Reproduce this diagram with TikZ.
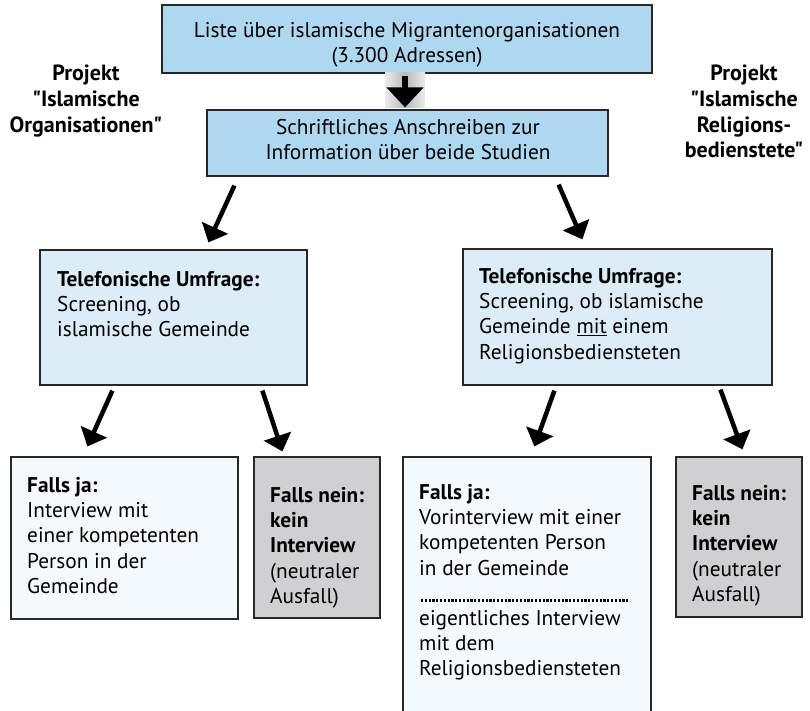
\documentclass[tikz,border=0pt]{standalone}
\usepackage{fontspec}
\setmainfont{PT Sans}[Ligatures=TeXOff]
\usetikzlibrary{arrows.meta}
\definecolor{topblue}{RGB}{173,216,240}
\definecolor{midblue}{RGB}{220,237,248}
\definecolor{paleblue}{RGB}{244,249,253}
\definecolor{boxgray}{RGB}{208,208,210}
\definecolor{boxline}{RGB}{40,40,40}
\begin{document}
\begin{tikzpicture}[x=1pt,y=-1pt,
  box/.style={draw=boxline, line width=1.2pt, rectangle, inner sep=0pt},
  txt/.style={font=\fontsize{21.3}{25.3}\selectfont, inner sep=0pt, align=left, anchor=north west},
  ctxt/.style={font=\fontsize{21.3}{25.3}\selectfont, inner sep=0pt, align=center, anchor=north},
  proj/.style={font=\bfseries\fontsize{22}{25.6}\selectfont, inner sep=0pt, align=center, anchor=north},
  bigarrow/.style={line width=4.5pt, -{Triangle[width=28pt,length=16pt]}},
  toparrow/.style={line width=6pt, -{Triangle[width=36pt,length=20pt]}}
]
\useasboundingbox (0,0) rectangle (810,711);

% boxes
\node[box, fill=topblue, minimum width=490pt, minimum height=68pt] (top) at (407,39) {};
\node[box, fill=topblue, minimum width=401pt, minimum height=66pt] (box2) at (407.5,143) {};
\node[box, fill=midblue, minimum width=267pt, minimum height=135pt] (midL) at (173.5,317.5) {};
\node[box, fill=midblue, minimum width=309pt, minimum height=136pt] (midR) at (617.5,317) {};
\node[box, fill=paleblue, minimum width=227pt, minimum height=162pt] (b1) at (124.5,538) {};
\node[box, fill=boxgray, minimum width=126pt, minimum height=161pt] (b2) at (317,537.5) {};
\node[box, fill=paleblue, minimum width=248pt, minimum height=262pt] (b3) at (527,588) {};
\node[box, fill=boxgray, minimum width=126pt, minimum height=160pt] (b4) at (739,537) {};

% texts
\node[ctxt] (tTop) at (407,22) {Liste über islamische Migrantenorganisationen\\(3.300 Adressen)};
\node[ctxt] (tBox2) at (408,119) {Schriftliches Anschreiben zur\\Information über beide Studien};
\node[proj] (pL) at (86,65) {Projekt\\"Islamische\\Organisationen"};
\node[proj] (pR) at (744,65) {Projekt\\"Islamische\\Religions-\\bedienstete"};
\node[txt] (tMidL) at (57,271) {\textbf{Telefonische Umfrage:}\\Screening, ob\\islamische Gemeinde};
\node[txt] (tMidR) at (479,268) {\textbf{Telefonische Umfrage:}\\Screening, ob islamische\\Gemeinde \underline{mit} einem\\Religionsbediensteten};
\node[txt] (tB1) at (27,477) {\textbf{Falls ja:}\\Interview mit\\einer kompetenten\\Person in der\\Gemeinde};
\node[txt] (tB2) at (270,487) {\textbf{Falls nein:}\\\textbf{kein}\\\textbf{Interview}\\(neutraler\\Ausfall)};
\node[txt] (tB3a) at (419,484) {\textbf{Falls ja:}\\Vorinterview mit einer\\kompetenten Person\\in der Gemeinde};
\node[txt] (tB3b) at (419,610) {eigentliches Interview\\mit dem\\Religionsbediensteten};
\node[txt] (tB4) at (692,485) {\textbf{Falls nein:}\\\textbf{kein}\\\textbf{Interview}\\(neutraler\\Ausfall)};

% dotted separator in b3
\coordinate (dotA) at (421,600);
\coordinate (dotB) at (630,600);
\draw[line width=3pt, dash pattern=on 2.2pt off 1.6pt] (dotA) -- (dotB);

% shade behind the top arrow
\shade[left color=gray!15, right color=gray!15, middle color=gray!55] (385,73) rectangle (425,108);

% arrows
\draw[toparrow] ([shift={(-2,2)}]top.south) -- ([shift={(-2.5,-2)}]box2.north);
\draw[bigarrow] ([shift={(28,9)}]box2.south west) -- ([shift={(169,-7)}]midL.north west);
\draw[bigarrow] ([shift={(-50,8)}]box2.south east) -- ([shift={(120,-9)}]midR.north west);
\draw[bigarrow] ([shift={(73,5)}]midL.south west) -- ([shift={(77,-10)}]b1.north west);
\draw[bigarrow] ([shift={(223,5)}]midL.south west) -- ([shift={(29,-5)}]b2.north west);
\draw[bigarrow] ([shift={(92,5)}]midR.south west) -- ([shift={(132,-10)}]b3.north west);
\draw[bigarrow] ([shift={(258,4)}]midR.south west) -- ([shift={(67,-7)}]b4.north west);
\end{tikzpicture}
\end{document}
